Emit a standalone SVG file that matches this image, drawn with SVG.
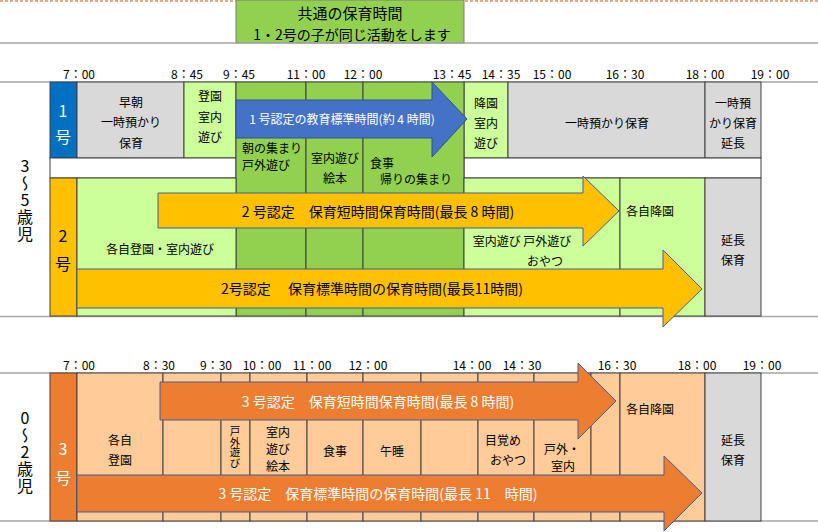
<svg xmlns="http://www.w3.org/2000/svg" width="818" height="532" viewBox="0 0 818 532">
<style>
text{font-family:"Noto Sans CJK JP","Liberation Sans",sans-serif;fill:#000;dominant-baseline:central;text-anchor:middle}
.t{font-size:12px}
.tm{font-size:10.5px;writing-mode:vertical-rl;text-orientation:upright}
.big{font-size:16px}
.vt{font-size:16px;writing-mode:vertical-rl;text-orientation:upright;letter-spacing:1px}
.w{fill:#fff}
.c{stroke:#404040;stroke-width:1}
.lb{fill:#CCFF99}
.gr{fill:#92D050}
.gy{fill:#D9D9D9}
.pc{fill:#FFCC99}
.hl{stroke:#A6A6A6;stroke-width:1.5}
.ar{stroke:#41609A;stroke-width:1}
.at{font-size:14px}
</style>
<rect width="818" height="532" fill="#fff"/>
<line x1="0" y1="1" x2="818" y2="1" stroke="#C55A11" stroke-width="1.2" stroke-dasharray="3,2"/>

<g id="header">
<rect x="236" y="0" width="228" height="43" class="gr" stroke="#7F7F7F" stroke-width="1"/>
<text x="350" y="12" style="font-size:15px">共通の保育時間</text>
<text x="352" y="34" style="font-size:14px">1・2号の子が同じ活動をします</text>
</g>

<g id="grid-lines">
<line x1="0" y1="43" x2="818" y2="43" class="hl"/>
<line x1="0" y1="82" x2="818" y2="82" class="hl"/>
<line x1="0" y1="316.5" x2="818" y2="316.5" class="hl"/>
<line x1="0" y1="373" x2="818" y2="373" class="hl"/>
<line x1="0" y1="521" x2="818" y2="521" class="hl"/>
</g>

<g id="times-top" class="t">
<text x="79" y="73">7：00</text>
<text x="187" y="73">8：45</text>
<text x="239" y="73">9：45</text>
<text x="306" y="73">11：00</text>
<text x="363" y="73">12：00</text>
<text x="452" y="73">13：45</text>
<text x="501" y="73">14：35</text>
<text x="552" y="73">15：00</text>
<text x="625" y="73">16：30</text>
<text x="705" y="73">18：00</text>
<text x="770" y="73">19：00</text>
</g>

<g id="times-bottom" class="t">
<text x="79" y="364">7：00</text>
<text x="159" y="364">8：30</text>
<text x="216" y="364">9：30</text>
<text x="262" y="364">10：00</text>
<text x="312" y="364">11：00</text>
<text x="368" y="364">12：00</text>
<text x="472" y="364">14：00</text>
<text x="522" y="364">14：30</text>
<text x="617" y="364">16：30</text>
<text x="697" y="364">18：00</text>
<text x="762" y="364">19：00</text>
</g>

<g id="age-3-5">
<text x="25" y="200" class="vt">3～5歳児</text>
</g>
<g id="age-0-2">
<text x="25" y="452" class="vt">0～2歳児</text>
</g>

<g id="row-1go">
<rect x="50" y="82" width="27" height="76" fill="#0070C0" class="c"/>
<text x="63" y="110" class="big w">1</text>
<text x="63" y="136" class="big w">号</text>
<rect x="77" y="82" width="107" height="76" class="gy c"/>
<text x="131" y="101" class="t">早朝</text>
<text x="131" y="121" class="t">一時預かり</text>
<text x="131" y="142" class="t">保育</text>
<rect x="184" y="82" width="52" height="76" class="lb c"/>
<text x="210" y="95" class="t">登園</text>
<text x="210" y="116" class="t">室内</text>
<text x="210" y="136" class="t">遊び</text>
<rect x="464" y="82" width="44" height="76" class="lb c"/>
<text x="486" y="102" class="t">降園</text>
<text x="486" y="122" class="t">室内</text>
<text x="486" y="142" class="t">遊び</text>
<rect x="508" y="82" width="197" height="76" class="gy c"/>
<text x="607" y="122" class="t">一時預かり保育</text>
<rect x="705" y="82" width="56" height="76" class="gy c"/>
<text x="733" y="102" class="t">一時預</text>
<text x="733" y="122" class="t">かり保育</text>
<text x="733" y="142" class="t">延長</text>
<rect x="50" y="158" width="186" height="20" fill="#fff" class="c"/>
<rect x="464" y="158" width="297" height="20" fill="#fff" class="c"/>
</g>

<g id="common-time">
<rect x="236" y="82" width="70" height="234" class="gr c"/>
<rect x="306" y="82" width="57" height="234" class="gr c"/>
<rect x="363" y="82" width="101" height="234" class="gr c"/>
<text x="242" y="147" class="t" style="text-anchor:start">朝の集まり</text>
<text x="242" y="164" class="t" style="text-anchor:start">戸外遊び</text>
<text x="335" y="157" class="t">室内遊び</text>
<text x="335" y="177" class="t">絵本</text>
<text x="370" y="162" class="t" style="text-anchor:start">食事</text>
<text x="380" y="178" class="t" style="text-anchor:start">帰りの集まり</text>
</g>

<g id="row-2go">
<rect x="50" y="178" width="27" height="138" fill="#FFC000" class="c"/>
<text x="63" y="235" class="big">2</text>
<text x="63" y="263" class="big">号</text>
<rect x="77" y="178" width="159" height="138" class="lb c"/>
<text x="160" y="248" class="t">各自登園・室内遊び</text>
<rect x="464" y="178" width="156" height="138" class="lb c"/>
<text x="522" y="240" class="t">室内遊び 戸外遊び</text>
<text x="545" y="260" class="t">おやつ</text>
<rect x="620" y="178" width="85" height="138" class="lb c"/>
<text x="650" y="210" class="t">各自降園</text>
<rect x="705" y="178" width="56" height="138" class="gy c"/>
<text x="733" y="239" class="t">延長</text>
<text x="733" y="259" class="t">保育</text>
</g>

<g id="row-3go">
<rect x="50" y="373" width="27" height="148" fill="#ED7D31" class="c"/>
<text x="63" y="448" class="big w">3</text>
<text x="63" y="477" class="big w">号</text>
<rect x="77" y="373" width="86" height="148" class="pc c"/>
<rect x="163" y="373" width="58" height="148" class="pc c"/>
<rect x="221" y="373" width="29" height="148" class="pc c"/>
<rect x="250" y="373" width="57" height="148" class="pc c"/>
<rect x="307" y="373" width="56" height="148" class="pc c"/>
<rect x="363" y="373" width="58" height="148" class="pc c"/>
<rect x="421" y="373" width="57" height="148" class="pc c"/>
<rect x="478" y="373" width="56" height="148" class="pc c"/>
<rect x="534" y="373" width="57" height="148" class="pc c"/>
<rect x="591" y="373" width="29" height="148" class="pc c"/>
<rect x="620" y="373" width="85" height="148" class="pc c"/>
<rect x="705" y="373" width="56" height="148" class="gy c"/>
<text x="120" y="439" class="t">各自</text>
<text x="120" y="459" class="t">登園</text>
<text x="235" y="447" class="tm">戸外遊び</text>
<text x="278" y="431" class="t">室内</text>
<text x="278" y="448" class="t">遊び</text>
<text x="278" y="465" class="t">絵本</text>
<text x="335" y="450" class="t">食事</text>
<text x="392" y="450" class="t">午睡</text>
<text x="503" y="439" class="t">目覚め</text>
<text x="508" y="459" class="t">おやつ</text>
<text x="562" y="448" class="t">戸外・</text>
<text x="563" y="465" class="t">室内</text>
<text x="650" y="408" class="t">各自降園</text>
<text x="733" y="439" class="t">延長</text>
<text x="733" y="459" class="t">保育</text>
</g>

<g id="connectors">
<polygon points="236,100 432,100 432,82 467,119 432,157 432,138 236,138" fill="#4472C4" stroke="#2F528F" stroke-width="1"/>
<text x="342" y="118" class="w" style="font-size:12px">1 号認定の教育標準時間(約 4 時間)</text>
<polygon points="158,193 583,193 583,176 619,211 583,246 583,228 158,228" fill="#FFC000" class="ar"/>
<text x="378" y="211" class="at">2 号認定　保育短時間保育時間(最長 8 時間)</text>
<polygon points="77,269 663,269 663,250 702,289 663,327 663,308 77,308" fill="#FFC000" class="ar"/>
<text x="372" y="288" class="at">2号認定　 保育標準時間の保育時間(最長11時間)</text>
<polygon points="160,382 578,382 578,363 616,401 578,439 578,420 160,420" fill="#ED7D31" class="ar"/>
<text x="378" y="401" class="at w">3 号認定　保育短時間保育時間(最長 8 時間)</text>
<polygon points="77,475 664,475 664,456 702,493 664,531 664,512 77,512" fill="#ED7D31" class="ar"/>
<text x="378" y="493" class="at w">3 号認定　保育標準時間の保育時間(最長 11　時間)</text>
</g>
</svg>
